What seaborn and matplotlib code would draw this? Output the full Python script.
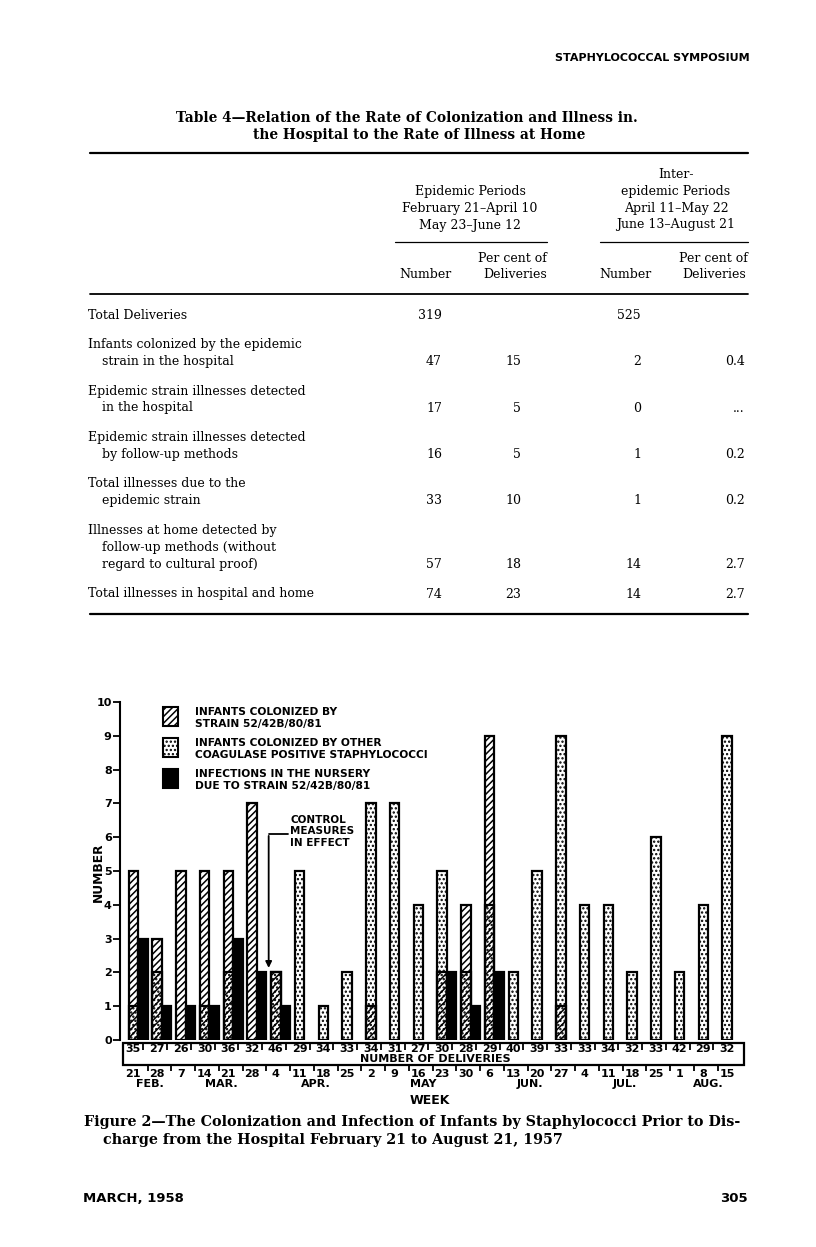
import matplotlib
matplotlib.use('Agg')
import matplotlib.pyplot as plt
import seaborn as sns
import pandas as pd
from matplotlib.patches import Rectangle
from matplotlib.lines import Line2D

# ---- chart data (26 weeks, Feb 21 - Aug 15, 1957) ----
week_days = ['21', '28', '7', '14', '21', '28', '4', '11', '18', '25', '2', '9', '16',
             '23', '30', '6', '13', '20', '27', '4', '11', '18', '25', '1', '8', '15']
week_months = ['FEB.'] * 2 + ['MAR.'] * 4 + ['APR.'] * 4 + ['MAY'] * 5 + ['JUN.'] * 4 + \
              ['JUL.'] * 4 + ['AUG.'] * 3
deliveries = [35, 27, 26, 30, 36, 32, 46, 29, 34, 33, 34, 31, 27, 30, 28, 29, 40, 39,
              33, 33, 34, 32, 33, 42, 29, 32]
strain_colonized = [5, 3, 5, 5, 5, 7, 2, 0, 0, 0, 1, 0, 0, 2, 4, 9, 0, 0, 1, 0, 0, 0, 0, 0, 0, 0]
other_colonized = [1, 2, 0, 1, 2, 0, 2, 5, 1, 2, 7, 7, 4, 5, 2, 4, 2, 5, 9, 4, 4, 2, 6, 2, 4, 9]
nursery_infections = [3, 1, 1, 1, 3, 2, 1, 0, 0, 0, 0, 0, 0, 2, 1, 2, 0, 0, 0, 0, 0, 0, 0, 0, 0, 0]

# ---- table data ----
row_labels = [
    ['Total Deliveries'],
    ['Infants colonized by the epidemic', 'strain in the hospital'],
    ['Epidemic strain illnesses detected', 'in the hospital'],
    ['Epidemic strain illnesses detected', 'by follow-up methods'],
    ['Total illnesses due to the', 'epidemic strain'],
    ['Illnesses at home detected by', 'follow-up methods (without', 'regard to cultural proof)'],
    ['Total illnesses in hospital and home'],
]
epi_number = ['319', '47', '17', '16', '33', '57', '74']
epi_percent = ['', '15', '5', '5', '10', '18', '23']
inter_number = ['525', '2', '0', '1', '1', '14', '14']
inter_percent = ['', '0.4', '...', '0.2', '0.2', '2.7', '2.7']

sns.set_style('white')
plt.rcParams['font.family'] = ['DejaVu Sans']
plt.rcParams['text.color'] = 'black'
plt.rcParams['ytick.color'] = 'black'
plt.rcParams['hatch.linewidth'] = 1.1
plt.rcParams['hatch.color'] = 'black'

W, H = 816, 1247
fig = plt.figure(figsize=(W / 100, H / 100), dpi=100)
fig.patch.set_facecolor('white')


def fx(x):
    return x / W


def fy(y):
    return 1 - y / H


serif = 'DejaVu Serif'
sans = 'DejaVu Sans'

# ---- page header ----
fig.text(fx(750), fy(58), 'STAPHYLOCOCCAL SYMPOSIUM', ha='right', va='center',
         family=sans, weight='bold', fontsize=8)

# ---- table ----
fig.text(fx(407), fy(118), 'Table 4\u2014Relation of the Rate of Colonization and Illness in.',
         ha='center', va='center', family=serif, weight='bold', fontsize=9.9)
fig.text(fx(419), fy(135), 'the Hospital to the Rate of Illness at Home',
         ha='center', va='center', family=serif, weight='bold', fontsize=9.9)


def hline(y, x0, x1, lw):
    fig.add_artist(Line2D([fx(x0), fx(x1)], [fy(y), fy(y)], color='black', lw=lw,
                          transform=fig.transFigure))


hline(153, 90, 748, 1.6)
hline(242, 395, 547, 0.9)
hline(242, 600, 748, 0.9)
hline(294, 90, 748, 1.3)
hline(614, 90, 748, 1.6)

tfont = dict(family=serif, fontsize=9.0, va='center')
for i, t in enumerate(['Epidemic Periods', 'February 21\u2013April 10', 'May 23\u2013June 12']):
    fig.text(fx(470), fy(192 + 16.6 * i), t, ha='center', **tfont)
for i, t in enumerate(['Inter-', 'epidemic Periods', 'April 11\u2013May 22', 'June 13\u2013August 21']):
    fig.text(fx(676), fy(175 + 16.6 * i), t, ha='center', **tfont)
fig.text(fx(425), fy(275), 'Number', ha='center', **tfont)
fig.text(fx(547), fy(259), 'Per cent of', ha='right', **tfont)
fig.text(fx(547), fy(275), 'Deliveries', ha='right', **tfont)
fig.text(fx(625), fy(275), 'Number', ha='center', **tfont)
fig.text(fx(748), fy(259), 'Per cent of', ha='right', **tfont)
fig.text(fx(746), fy(275), 'Deliveries', ha='right', **tfont)

y = 315
for i, lines in enumerate(row_labels):
    for k, t in enumerate(lines):
        fig.text(fx(88 if k == 0 else 102), fy(y + 17 * k), t, ha='left', **tfont)
    last = y + 17 * (len(lines) - 1)
    fig.text(fx(442), fy(last), epi_number[i], ha='right', **tfont)
    fig.text(fx(521), fy(last), epi_percent[i], ha='right', **tfont)
    fig.text(fx(641), fy(last), inter_number[i], ha='right', **tfont)
    fig.text(fx(745), fy(last), inter_percent[i], ha='right', **tfont)
    y = last + 29.5

# ---- chart ----
ax = fig.add_axes([fx(120), fy(1040), (745 - 120) / W, (1040 - 702) / H])
df = pd.DataFrame({'week': range(len(deliveries)), 'strain': strain_colonized,
                   'other': other_colonized, 'infected': nursery_infections})
df['col_pos'] = df['week'] - 0.2
df['inf_pos'] = df['week'] + 0.2

sns.barplot(data=df[df['other'] > 0], x='col_pos', y='other', native_scale=True,
            orient='x', width=0.4, color='white', edgecolor='black', linewidth=1.6,
            hatch='....', saturation=1, errorbar=None, ax=ax, zorder=2)
sns.barplot(data=df[df['strain'] > 0], x='col_pos', y='strain', native_scale=True,
            orient='x', width=0.4, color='black', fill=False, linewidth=1.6,
            hatch='/////', errorbar=None, ax=ax, zorder=3)
sns.barplot(data=df[df['infected'] > 0], x='inf_pos', y='infected', native_scale=True,
            orient='x', width=0.4, color='black', edgecolor='black', linewidth=1.6,
            saturation=1, errorbar=None, ax=ax, zorder=3)

ax.set_xlim(-0.758, 25.55)
ax.set_ylim(0, 10)
ax.set_xticks([])
ax.set_yticks(range(11))
ax.set_yticklabels([str(v) for v in range(11)], fontsize=8, weight='bold')
ax.tick_params(axis='y', left=True, length=5, width=1.3, pad=1, direction='out')
ax.set_xlabel('')
ax.set_ylabel('')
for s in ['top', 'right', 'bottom']:
    ax.spines[s].set_visible(False)
ax.spines['left'].set_linewidth(1.5)
ax.spines['left'].set_color('black')
ax.set_facecolor('white')

# deliveries box and week axis
ax.add_patch(Rectangle((-0.63, -0.74), 26.13, 0.65, fill=False, lw=1.6,
                       edgecolor='black', clip_on=False))
bold7 = dict(fontsize=8, weight='bold', family=sans, ha='center', va='center')
for i, n in enumerate(deliveries):
    ax.text(i - 0.2, -0.27, str(n), clip_on=False, **bold7)
    ax.text(i - 0.2, -1.02, week_days[i], clip_on=False, **bold7)
ax.vlines([i + 0.22 for i in range(len(deliveries) - 1)], -0.3, -0.09, color='black',
          lw=1.3, clip_on=False)
ax.vlines([i + 0.4 for i in range(len(deliveries) - 1)], -0.92, -0.74, color='black',
          lw=1.3, clip_on=False)
ax.text(12.5, -0.57, 'NUMBER OF DELIVERIES', clip_on=False, **bold7)
months = pd.Series(range(len(week_months))).groupby(pd.Series(week_months), sort=False).mean()
for m, pos in months.items():
    ax.text(pos, -1.3, m, clip_on=False, **bold7)
ax.text(12.3, -1.8, 'WEEK', clip_on=False, **{**bold7, 'fontsize': 9})
fig.text(fx(98), fy(872), 'NUMBER', rotation=90, ha='center', va='center',
         family=sans, weight='bold', fontsize=8.8)

# control measures arrow
ax.plot([5.5, 6.3], [6.1, 6.1], color='black', lw=1.3)
ax.annotate('', xy=(5.5, 2.05), xytext=(5.5, 6.12),
            arrowprops=dict(arrowstyle='-|>', color='black', lw=1.3, mutation_scale=9))
for k, t in enumerate(['CONTROL', 'MEASURES', 'IN EFFECT']):
    ax.text(6.4, 6.5 - 0.33 * k, t, ha='left', va='center', fontsize=7.5, weight='bold',
            family=sans)

# legend
leg = [('/////', 'white', 707, ['INFANTS COLONIZED BY', 'STRAIN 52/42B/80/81']),
       ('....', 'white', 738, ['INFANTS COLONIZED BY OTHER', 'COAGULASE POSITIVE STAPHYLOCOCCI']),
       ('', 'black', 769, ['INFECTIONS IN THE NURSERY', 'DUE TO STRAIN 52/42B/80/81'])]
for hatch, fc, ytop, lines in leg:
    fig.add_artist(Rectangle((fx(163), fy(ytop + 19)), 15 / W, 19 / H, facecolor=fc,
                             edgecolor='black', hatch=hatch, lw=1.5,
                             transform=fig.transFigure))
    for k, t in enumerate(lines):
        fig.text(fx(195), fy(ytop + 5 + 12.5 * k), t, ha='left', va='center',
                 family=sans, weight='bold', fontsize=7.7)

# caption and footer
fig.text(fx(84), fy(1122), 'Figure 2\u2014The Colonization and Infection of Infants by Staphylococci Prior to Dis-',
         ha='left', va='center', family=serif, weight='bold', fontsize=10.3)
fig.text(fx(103), fy(1140), 'charge from the Hospital February 21 to August 21, 1957',
         ha='left', va='center', family=serif, weight='bold', fontsize=10.3)
fig.text(fx(83), fy(1198), 'MARCH, 1958', ha='left', va='center', family=sans,
         weight='bold', fontsize=9.5)
fig.text(fx(748), fy(1198), '305', ha='right', va='center', family=sans,
         weight='bold', fontsize=9.5)

fig.savefig('out.png', dpi=100, facecolor='white')
